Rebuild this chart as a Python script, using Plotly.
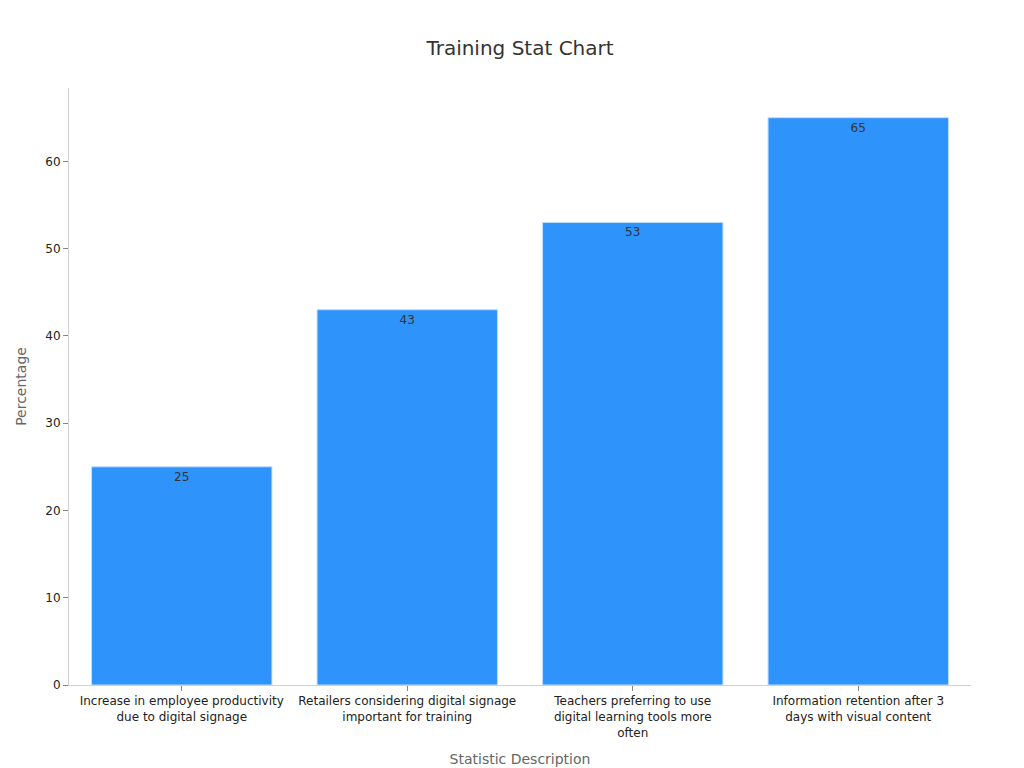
import plotly.graph_objects as go

categories = ["Increase in employee productivity<br>due to digital signage",
              "Retailers considering digital signage<br>important for training",
              "Teachers preferring to use<br>digital learning tools more<br>often",
              "Information retention after 3<br>days with visual content"]
values = [25, 43, 53, 65]

fig = go.Figure(go.Bar(
    x=categories, y=values, text=values, textposition="inside",
    insidetextanchor="end", textfont=dict(color="#333333", size=12),
    marker=dict(color="#2E93FA", line=dict(color="#BFDDFD", width=1)),
))
fig.update_layout(
    width=1024, height=768, template="plotly_white",
    font=dict(family="DejaVu Sans", color="#333333"),
    title=dict(text="Training Stat Chart", x=0.5, y=0.957, xanchor="center",
               font=dict(size=20, color="#333333")),
    margin=dict(l=61, r=61, t=80, b=91),
    bargap=0.2, showlegend=False,
    plot_bgcolor="white",
)
fig.update_xaxes(title=dict(text="Statistic Description", font=dict(size=14, color="#666666")),
                 showline=True, linecolor="#D0D0D0", ticks="outside", tickcolor="#888888",
                 tickfont=dict(size=12, color="#222222"), showgrid=False)
fig.update_yaxes(title=dict(text="Percentage", font=dict(size=14, color="#666666")),
                 range=[0, 68.4], dtick=10, showline=True, linecolor="#D0D0D0",
                 ticks="outside", tickcolor="#888888", showgrid=False, zeroline=False,
                 tickfont=dict(size=12, color="#222222"))
fig.write_html("out.html")
